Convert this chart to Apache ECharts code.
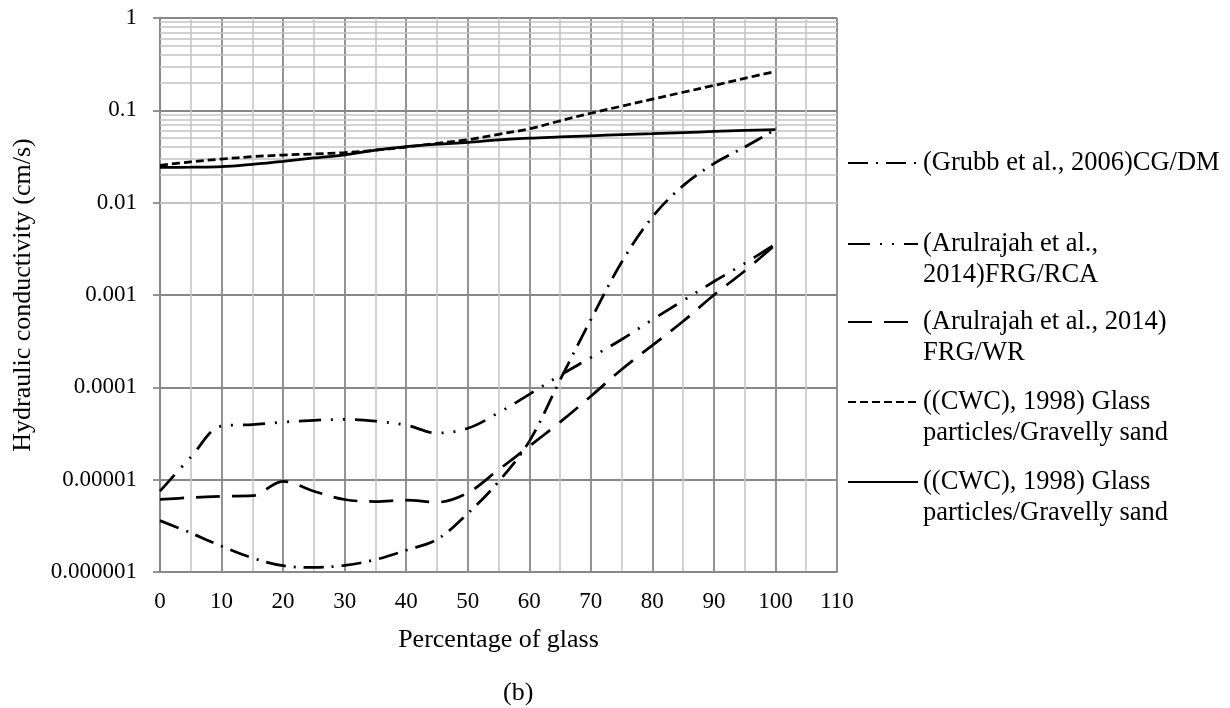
<!DOCTYPE html>
<html>
<head>
<meta charset="utf-8">
<script src="https://cdn.jsdelivr.net/npm/echarts@6/dist/echarts.min.js"></script>
<style>
  html, body { margin: 0; padding: 0; background: #fff; }
  #chart { width: 1230px; height: 708px; }
</style>
</head>
<body>
<div id="chart"></div>
<script>
// ---- data ----
const xValues = [0, 5, 10, 15, 20, 25, 30, 35, 40, 45, 50, 55, 60, 65, 70, 75, 80, 85, 90, 95, 100];
const grubbCGDM = [3.6e-6, 2.65e-6, 1.9e-6, 1.42e-6, 1.17e-6, 1.12e-6, 1.18e-6, 1.36e-6, 1.72e-6, 2.25e-6, 4.3e-6, 9.5e-6, 2.6e-5, 1.2e-4, 5.4e-4, 2.26e-3, 7.0e-3, 1.53e-2, 2.65e-2, 4.0e-2, 6.2e-2];
const arulRCA = [7.5e-6, 1.75e-5, 3.8e-5, 3.95e-5, 4.2e-5, 4.4e-5, 4.5e-5, 4.3e-5, 3.9e-5, 3.2e-5, 3.6e-5, 5.3e-5, 8.4e-5, 1.35e-4, 2.1e-4, 3.3e-4, 5.4e-4, 8.7e-4, 1.4e-3, 2.2e-3, 3.56e-3];
const arulWR = [6.1e-6, 6.4e-6, 6.6e-6, 6.7e-6, 9.6e-6, 7.5e-6, 6.1e-6, 5.8e-6, 6.0e-6, 5.7e-6, 7.2e-6, 1.28e-5, 2.3e-5, 4.2e-5, 8.0e-5, 1.56e-4, 2.85e-4, 5.2e-4, 1.0e-3, 1.82e-3, 3.5e-3];
const cwcDashed = [0.0253, 0.0277, 0.0297, 0.0315, 0.0328, 0.0337, 0.0348, 0.037, 0.040, 0.044, 0.048, 0.055, 0.063, 0.077, 0.093, 0.111, 0.132, 0.157, 0.186, 0.222, 0.264];
const cwcSolid = [0.0241, 0.0242, 0.0245, 0.026, 0.028, 0.0305, 0.033, 0.037, 0.0405, 0.043, 0.045, 0.0478, 0.050, 0.0515, 0.053, 0.0545, 0.0558, 0.0574, 0.059, 0.0605, 0.0617];

const seriesNames = [
  '(Grubb et al., 2006)CG/DM',
  '(Arulrajah et al., 2014)FRG/RCA',
  '(Arulrajah et al., 2014) FRG/WR',
  '((CWC), 1998) Glass particles/Gravelly sand',
  '((CWC), 1998) Glass particles/Gravelly sand\u200B'
];
const legendLabels = [
  ['(Grubb et al., 2006)CG/DM'],
  ['(Arulrajah et al.,', '2014)FRG/RCA'],
  ['(Arulrajah et al., 2014)', 'FRG/WR'],
  ['((CWC), 1998) Glass', 'particles/Gravelly sand'],
  ['((CWC), 1998) Glass', 'particles/Gravelly sand']
];
const yTickLabels = ['0.000001', '0.00001', '0.0001', '0.001', '0.01', '0.1', '1'];
const xTitle = 'Percentage of glass';
const yTitle = 'Hydraulic conductivity (cm/s)';
const caption = '(b)';

// ---- chart ----
const FONT = 'Liberation Serif';
const LH = 31;
const chart = echarts.init(document.getElementById('chart'), null, { renderer: 'canvas' });

function pairs(vals) { return xValues.map((x, i) => [x, vals[i]]); }

// minor log grid lines (2..9 in each decade)
const minorLines = [];
for (let e = -6; e < 0; e++) {
  for (let m = 2; m <= 9; m++) minorLines.push({ yAxis: m * Math.pow(10, e) });
}

const styles = [
  [20, 8, 2, 8],
  [22, 10, 2, 10, 2, 10],
  [24, 12],
  [8, 4],
  'solid'
];
const seriesData = [grubbCGDM, arulRCA, arulWR, cwcDashed, cwcSolid];
const legendY = [163, 244, 322, 402, 482];

const series = seriesData.map((vals, i) => ({
  name: seriesNames[i],
  type: 'line',
  data: pairs(vals),
  smooth: 0.35,
  symbol: 'none',
  showSymbol: false,
  silent: true,
  z: 3,
  lineStyle: { color: '#000', width: 2.75, type: styles[i], cap: 'butt' },
  itemStyle: { color: '#000' }
}));
series.push({
  name: 'minorgrid',
  type: 'line',
  data: [],
  silent: true,
  z: 1,
  markLine: {
    silent: true,
    z: 1,
    symbol: ['none', 'none'],
    animation: false,
    label: { show: false },
    lineStyle: { color: '#c3c3c3', width: 1.5, type: 'solid' },
    emphasis: { disabled: true },
    data: minorLines
  }
});

const legends = seriesNames.map((n, i) => {
  const lines = legendLabels[i];
  const twoLine = lines.length > 1;
  // for two-line labels, a blank first line keeps the sample aligned with the first text line
  const text = twoLine ? '\u00A0\n' + lines.join('\n') : lines[0];
  const offset = twoLine ? LH * 1.5 : LH / 2;
  return {
    data: [n],
    orient: 'vertical',
    left: 847,
    top: legendY[i] - offset,
    padding: 0,
    itemWidth: 70,
    itemHeight: 14,
    selectedMode: false,
    itemStyle: { color: 'rgba(0,0,0,0)', borderWidth: 0, opacity: 0 },
    formatter: function () { return text; },
    textStyle: { fontFamily: FONT, fontSize: 26.5, color: '#000', lineHeight: LH }
  };
});

chart.setOption({
  animation: false,
  backgroundColor: '#fff',
  textStyle: { fontFamily: FONT },
  title: {
    text: caption, left: 498, top: 675,
    textStyle: { fontFamily: FONT, fontSize: 26, fontWeight: 'normal', color: '#000' }
  },
  legend: legends,
  grid: { left: 160, top: 18, width: 677, height: 554, containLabel: false },
  xAxis: {
    type: 'value', min: 0, max: 110, interval: 10,
    name: xTitle, nameLocation: 'middle', nameGap: 55,
    nameTextStyle: { fontFamily: FONT, fontSize: 26, color: '#000' },
    axisLine: { show: true, lineStyle: { color: '#888', width: 1.8 } },
    axisTick: { show: false },
    axisLabel: { fontFamily: FONT, fontSize: 23, color: '#000', margin: 18 },
    splitLine: { show: true, lineStyle: { color: '#888', width: 1.8 } },
    minorTick: { show: false, splitNumber: 2 },
    minorSplitLine: { show: true, lineStyle: { color: '#c3c3c3', width: 1.5 } }
  },
  yAxis: {
    type: 'log', logBase: 10, min: 1e-6, max: 1,
    name: yTitle, nameLocation: 'middle', nameGap: 124, nameRotate: 90,
    nameTextStyle: { fontFamily: FONT, fontSize: 26, color: '#000' },
    axisLine: { show: true, lineStyle: { color: '#888', width: 1.8 } },
    axisTick: { show: true, length: 7, lineStyle: { color: '#888', width: 1.8 } },
    axisLabel: {
      fontFamily: FONT, fontSize: 23, color: '#000', margin: 23,
      formatter: function (v) {
        const i = Math.round(Math.log10(v)) + 6;
        return yTickLabels[i] !== undefined ? yTickLabels[i] : '';
      }
    },
    splitLine: { show: true, lineStyle: { color: '#888', width: 1.8 } }
  },
  series: series
});
</script>
</body>
</html>
